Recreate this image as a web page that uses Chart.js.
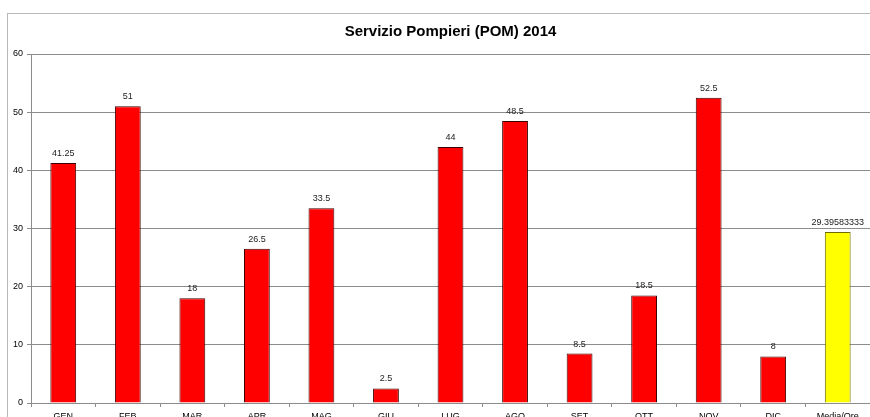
<!DOCTYPE html>
<html>
<head>
<meta charset="utf-8">
<script src="https://cdn.jsdelivr.net/npm/chart.js@4"></script>
<style>
  html, body { margin: 0; padding: 0; background: #fff; overflow: hidden; }
  #wrap { width: 870px; height: 430px; position: relative; }
</style>
</head>
<body>
<div id="wrap"><canvas id="chart" width="870" height="430"></canvas></div>
<script>
const categories = ['GEN', 'FEB', 'MAR', 'APR', 'MAG', 'GIU', 'LUG', 'AGO', 'SET', 'OTT', 'NOV', 'DIC', 'Media/Ore'];
const values = [41.25, 51, 18, 26.5, 33.5, 2.5, 44, 48.5, 8.5, 18.5, 52.5, 8, 29.39583333];
const barColors = ['#ff0000', '#ff0000', '#ff0000', '#ff0000', '#ff0000', '#ff0000', '#ff0000', '#ff0000', '#ff0000', '#ff0000', '#ff0000', '#ff0000', '#ffff00'];
const yTicks = [0, 10, 20, 30, 40, 50, 60];

const FONT = "'Liberation Sans', Arial, sans-serif";

// light grey frame round the whole chart, like the Excel chart area
const frame = {
    id: 'frame',
    beforeDraw(chart) {
        const c = chart.ctx;
        c.save();
        c.strokeStyle = '#b9b9b9';
        c.lineWidth = 1;
        c.strokeRect(7.5, 13.5, chart.width + 20, chart.height + 20);
        c.restore();
    }
};

// value written above each bar
const valueLabels = {
    id: 'valueLabels',
    afterDatasetsDraw(chart) {
        const c = chart.ctx;
        const meta = chart.getDatasetMeta(0);
        c.save();
        c.font = '9px ' + FONT;
        c.fillStyle = '#222';
        c.textAlign = 'center';
        c.textBaseline = 'bottom';
        meta.data.forEach((bar, i) => {
            c.fillText(String(values[i]), bar.x, bar.y - 5);
        });
        c.restore();
    }
};

new Chart(document.getElementById('chart'), {
    type: 'bar',
    data: {
        labels: categories,
        datasets: [{
            data: values,
            backgroundColor: barColors,
            borderColor: barColors.map(c => c === '#ffff00' ? '#6b6b00' : '#3a0000'),
            borderWidth: 1,
            borderSkipped: 'bottom',
            categoryPercentage: 1,
            barPercentage: 0.4
        }]
    },
    options: {
        responsive: false,
        animation: false,
        layout: { padding: { left: 0, right: 0, top: 0, bottom: 0 } },
        plugins: {
            legend: { display: false },
            tooltip: { enabled: false },
            title: {
                display: true,
                fullSize: false,
                text: 'Servizio Pompieri (POM) 2014',
                color: '#000',
                font: { family: FONT, size: 15, weight: 'bold' },
                padding: { top: 23, bottom: 13 }
            }
        },
        scales: {
            x: {
                offset: true,
                grid: {
                    offset: true,
                    drawOnChartArea: false,
                    color: '#8c8c8c',
                    tickLength: 4
                },
                border: { color: '#8c8c8c' },
                ticks: {
                    color: '#000',
                    font: { family: FONT, size: 9 },
                    padding: 4,
                    maxRotation: 0,
                    autoSkip: false
                },
                afterFit(scale) { scale.height = 27; }
            },
            y: {
                min: 0,
                max: 60,
                afterBuildTicks(scale) { scale.ticks = yTicks.map(v => ({ value: v })); },
                grid: { color: '#8c8c8c', tickLength: 4 },
                border: { color: '#8c8c8c' },
                ticks: {
                    color: '#000',
                    font: { family: FONT, size: 9 },
                    padding: 4
                },
                afterFit(scale) { scale.width = 31; }
            }
        }
    },
    plugins: [frame, valueLabels]
});
</script>
</body>
</html>
